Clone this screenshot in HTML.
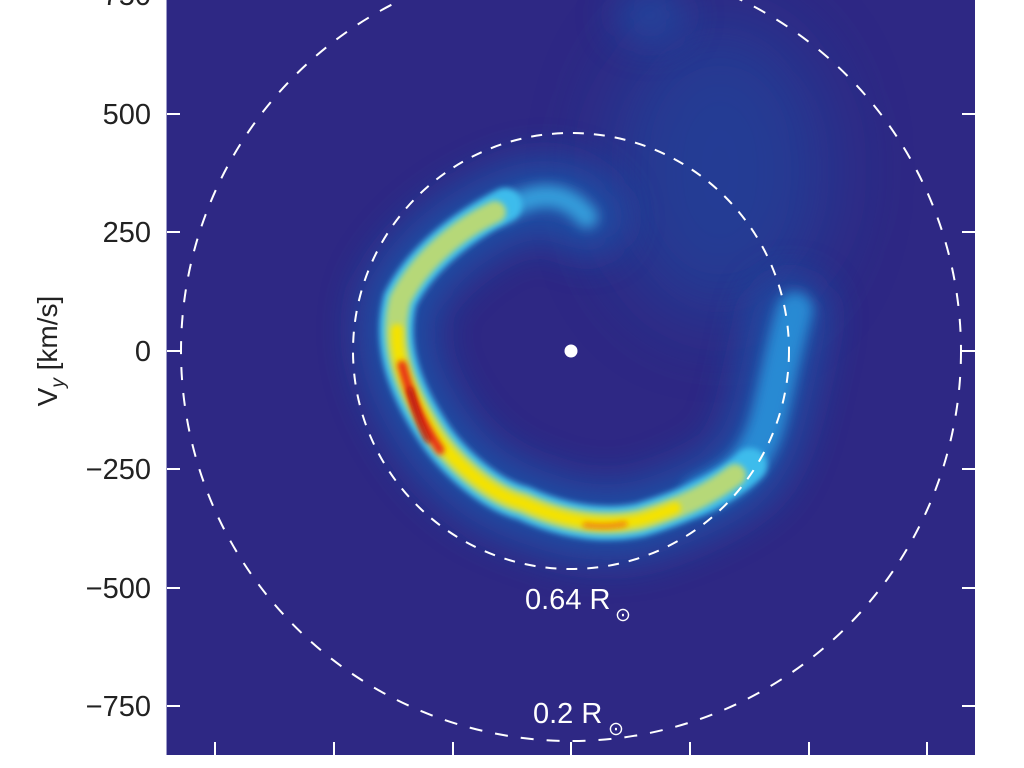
<!DOCTYPE html>
<html><head><meta charset="utf-8"><style>
html,body{margin:0;padding:0;background:#fff;}
svg{display:block;}
text{font-family:"Liberation Sans",sans-serif;}
</style></head><body>
<svg width="1024" height="768" viewBox="0 0 1024 768" xmlns="http://www.w3.org/2000/svg">
<defs>
<filter id="b20" filterUnits="userSpaceOnUse" x="0" y="0" width="1024" height="768"><feGaussianBlur stdDeviation="20"/></filter>
<filter id="b40" filterUnits="userSpaceOnUse" x="0" y="0" width="1024" height="768"><feGaussianBlur stdDeviation="40"/></filter>
<filter id="b6" filterUnits="userSpaceOnUse" x="0" y="0" width="1024" height="768"><feGaussianBlur stdDeviation="6"/></filter>
<filter id="b3" filterUnits="userSpaceOnUse" x="0" y="0" width="1024" height="768"><feGaussianBlur stdDeviation="3"/></filter>
<clipPath id="cp"><rect x="166" y="0" width="809" height="755"/></clipPath>
</defs>
<g clip-path="url(#cp)">
<rect x="166" y="0" width="809" height="755" fill="#2e2884"/>
<ellipse cx="720" cy="170" rx="110" ry="150" fill="#1e4ea2" opacity="0.55" filter="url(#b40)"/>
<ellipse cx="650" cy="15" rx="35" ry="25" fill="#1e5aae" opacity="0.6" filter="url(#b20)"/>
<path d="M587,217 C570,195 540,190 500,210 C460,228 420,260 400,300 C390,340 400,380 430,427 C450,460 490,495 523,503 C560,520 600,528 640,520 C690,505 730,485 747,467 C765,440 773,400 790,317" fill="none" stroke="#1a58ad" stroke-width="75" stroke-linecap="round" filter="url(#b20)" opacity="0.8"/>
<path d="M700,495 C730,480 750,470 765,430 C775,400 780,360 795,310" fill="none" stroke="#2a9ae0" stroke-width="36" stroke-linecap="round" filter="url(#b6)" opacity="0.8"/>
<path d="M500,212 C530,195 560,185 587,217" fill="none" stroke="#3ab0e8" stroke-width="22" stroke-linecap="round" filter="url(#b6)" opacity="0.8"/>
<path d="M505,205 C460,228 420,260 400,300 C390,340 400,380 430,427 C450,460 490,495 523,503 C560,520 600,528 640,520 C690,505 730,485 750,465" fill="none" stroke="#3cbcec" stroke-width="34" stroke-linecap="round" filter="url(#b3)"/>
<path d="M495,212 C460,228 420,260 400,300 C390,340 400,380 430,427 C450,460 490,495 523,503 C560,520 600,528 640,520 C690,505 715,490 735,475" fill="none" stroke="#b6d878" stroke-width="22" stroke-linecap="round" filter="url(#b3)"/>
<path d="M397,330 C396,360 405,385 430,427 C450,460 490,495 523,503 C560,520 600,528 640,520 C655,516 665,512 675,508" fill="none" stroke="#f4e200" stroke-width="12" stroke-linecap="round" filter="url(#b3)"/>
<path d="M402,365 C410,395 420,420 440,450" fill="none" stroke="#e83018" stroke-width="9" stroke-linecap="round" filter="url(#b3)"/>
<path d="M410,390 C415,410 420,425 428,440" fill="none" stroke="#b01010" stroke-width="5" stroke-linecap="round" filter="url(#b3)"/>
<path d="M585,525 C600,527 615,526 625,524" fill="none" stroke="#f07a10" stroke-width="5" stroke-linecap="round" filter="url(#b3)"/>
<circle cx="571" cy="351" r="218" fill="none" stroke="#fff" stroke-width="2" stroke-dasharray="11,10"/>
<circle cx="571" cy="351" r="390" fill="none" stroke="#fff" stroke-width="2" stroke-dasharray="13,13"/>
<circle cx="571" cy="351" r="6.5" fill="#fff"/>
<g stroke="#fff" stroke-width="2">
<line x1="166" y1="114" x2="180" y2="114"/><line x1="166" y1="232" x2="180" y2="232"/><line x1="166" y1="351" x2="180" y2="351"/><line x1="166" y1="469" x2="180" y2="469"/><line x1="166" y1="588" x2="180" y2="588"/><line x1="166" y1="706" x2="180" y2="706"/>
<line x1="962" y1="114" x2="975" y2="114"/><line x1="962" y1="232" x2="975" y2="232"/><line x1="962" y1="351" x2="975" y2="351"/><line x1="962" y1="469" x2="975" y2="469"/><line x1="962" y1="588" x2="975" y2="588"/><line x1="962" y1="706" x2="975" y2="706"/>
<line x1="215" y1="742" x2="215" y2="755"/><line x1="334" y1="742" x2="334" y2="755"/><line x1="453" y1="742" x2="453" y2="755"/><line x1="571" y1="742" x2="571" y2="755"/><line x1="690" y1="742" x2="690" y2="755"/><line x1="809" y1="742" x2="809" y2="755"/><line x1="927" y1="742" x2="927" y2="755"/>
</g>
<text x="525" y="609" font-size="29" fill="#fff">0.64 R</text><text x="615" y="621" font-size="19" fill="#fff">⊙</text>
<text x="533" y="723" font-size="29" fill="#fff">0.2 R</text><text x="608" y="735" font-size="19" fill="#fff">⊙</text>
</g>
<line x1="166.5" y1="0" x2="166.5" y2="755" stroke="#9c9ac8" stroke-width="1"/>
<g font-size="29" fill="#222" text-anchor="end">
<text x="151" y="5">750</text>
<text x="151" y="124">500</text>
<text x="151" y="242">250</text>
<text x="151" y="361">0</text>
<text x="151" y="479">−250</text>
<text x="151" y="598">−500</text>
<text x="151" y="716">−750</text>
</g>
<text transform="translate(57,351) rotate(-90)" font-size="28" fill="#222" text-anchor="middle">V<tspan font-size="19" font-style="italic" dy="7">y</tspan><tspan dy="-7"> [km/s]</tspan></text>
</svg>
</body></html>
